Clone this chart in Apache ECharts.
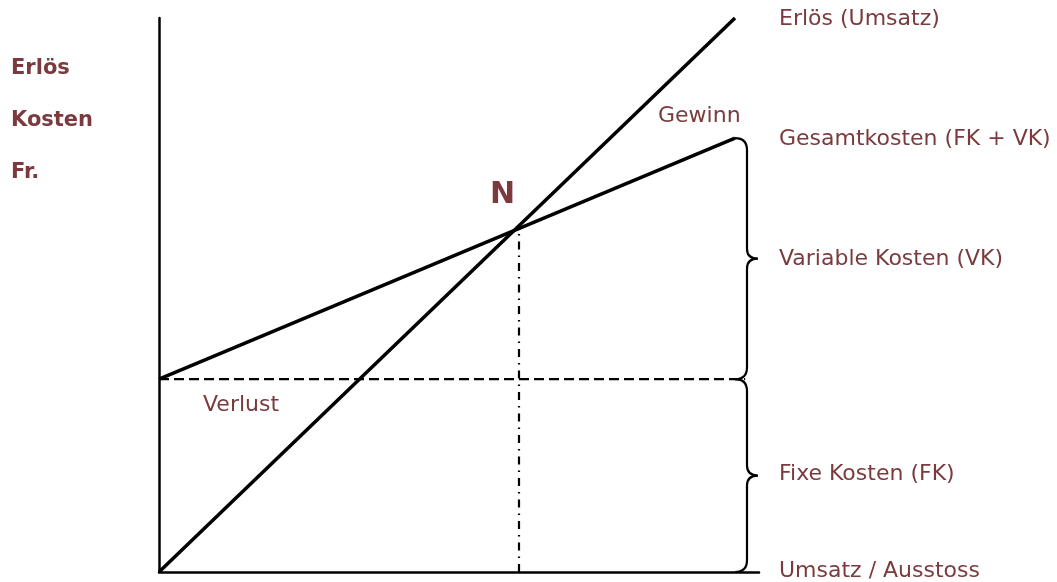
<!DOCTYPE html>
<html>
<head>
<meta charset="utf-8">
<script src="https://cdn.jsdelivr.net/npm/echarts@6/dist/echarts.min.js"></script>
<style>
  html, body { margin: 0; padding: 0; background: #fff; }
  #chart { width: 1057px; height: 582px; }
</style>
</head>
<body>
<div id="chart"></div>
<script>
// values (x: quantity, y: Fr.)
const revenue = [[0, 0], [96, 100]];
const totalCost = [[0, 34.8], [96, 78.3]];
const fixedCost = [[0, 34.8], [97.7, 34.8]];
const breakEven = [[60, 0], [60, 61.7]];
// braces: [x, low, high]
const braces = [[98, 34.8, 78.3], [98, 0, 34.8]];

const textColor = "#7b3b3e";
const font = "'DejaVu Sans', Verdana, sans-serif";

const chart = echarts.init(document.getElementById("chart"));

function label(text, x, y, size, weight) {
  return {
    type: "text",
    x: x,
    y: y,
    style: {
      text: text,
      fill: textColor,
      fontFamily: font,
      fontSize: size || 22,
      fontWeight: weight || "normal",
      verticalAlign: "middle"
    }
  };
}

const option = {
  animation: false,
  grid: { left: 159, top: 18, right: 298, bottom: 10 },
  xAxis: {
    type: "value",
    min: 0,
    max: 100,
    axisLine: { show: true, onZero: false, lineStyle: { color: "#000", width: 2.5 } },
    axisTick: { show: false },
    axisLabel: { show: false },
    splitLine: { show: false }
  },
  yAxis: {
    type: "value",
    min: 0,
    max: 100,
    axisLine: { show: true, onZero: false, lineStyle: { color: "#000", width: 2.5 } },
    axisTick: { show: false },
    axisLabel: { show: false },
    splitLine: { show: false }
  },
  series: [
    {
      name: "Erlös",
      type: "line",
      data: revenue,
      symbol: "none",
      lineStyle: { color: "#000", width: 3.5 }
    },
    {
      name: "Gesamtkosten",
      type: "line",
      data: totalCost,
      symbol: "none",
      lineStyle: { color: "#000", width: 3.5 }
    },
    {
      name: "Fixe Kosten",
      type: "line",
      data: fixedCost,
      symbol: "none",
      lineStyle: { color: "#000", width: 2.2, type: [10, 5] }
    },
    {
      name: "Nutzschwelle",
      type: "line",
      data: breakEven,
      symbol: "none",
      lineStyle: { color: "#000", width: 2.2, type: [8, 6, 1.5, 6] }
    },
    {
      name: "Klammern",
      type: "custom",
      data: braces,
      renderItem: function (params, api) {
        const top = api.coord([api.value(0), api.value(2)]);
        const bot = api.coord([api.value(0), api.value(1)]);
        const x0 = top[0], t = top[1], b = bot[1];
        const m = (t + b) / 2;
        const d = [
          "M", x0 - 12, t,
          "Q", x0, t, x0, t + 12,
          "L", x0, m - 10,
          "Q", x0, m, x0 + 11, m,
          "Q", x0, m, x0, m + 10,
          "L", x0, b - 12,
          "Q", x0, b, x0 - 12, b
        ].join(" ");
        return {
          type: "path",
          shape: { pathData: d },
          style: { stroke: "#000", lineWidth: 2.2, fill: null }
        };
      }
    }
  ],
  graphic: [
    label("Erlös (Umsatz)", 779, 19),
    label("Gesamtkosten (FK + VK)", 779, 139),
    label("Variable Kosten (VK)", 779, 259),
    label("Fixe Kosten (FK)", 779, 474),
    label("Umsatz / Ausstoss", 779, 571),
    label("Gewinn", 658, 116),
    label("Verlust", 203, 405),
    label("N", 490, 195, 30, "bold"),
    label("Erlös", 11, 69, 21, "bold"),
    label("Kosten", 11, 121, 21, "bold"),
    label("Fr.", 11, 173, 21, "bold")
  ]
};

chart.setOption(option);
</script>
</body>
</html>
